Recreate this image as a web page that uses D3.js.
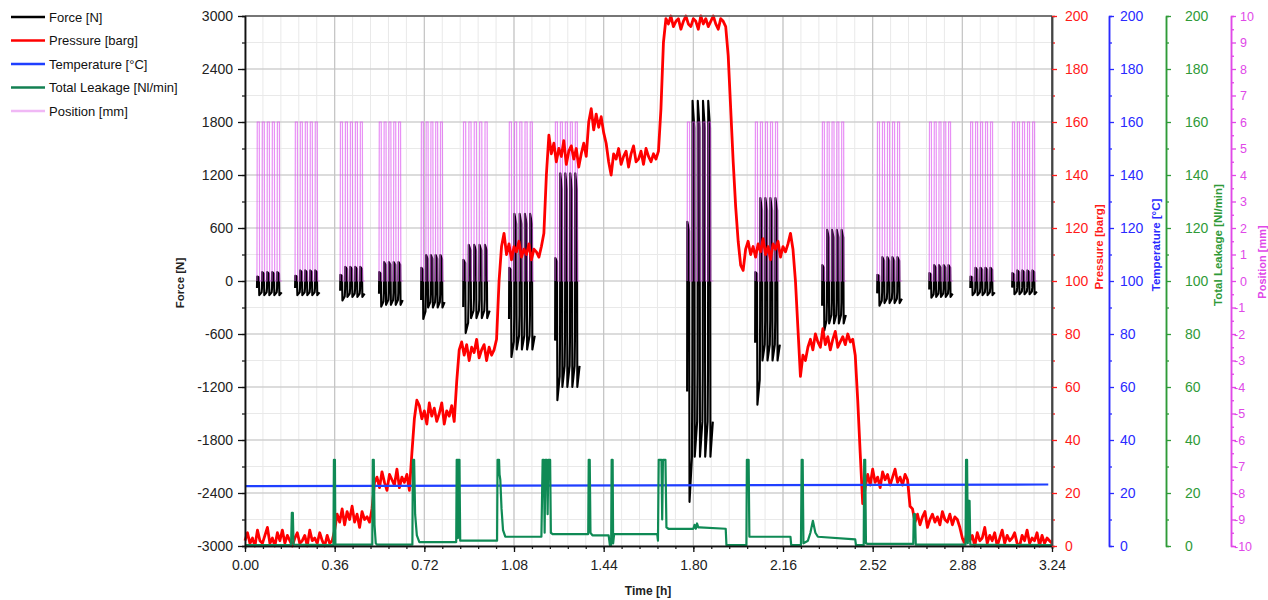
<!DOCTYPE html>
<html>
<head>
<meta charset="utf-8">
<script src="https://d3js.org/d3.v7.min.js"></script>
<style>
    body { margin: 0; background: #fff; }
    text { font-family: Arial, "Liberation Sans", sans-serif; }
</style>
</head>
<body>
<div id="chart"></div>
<script>

/* Force / position test blocks: 5 strokes each */
var blockStart = [0.048, 0.201, 0.382, 0.538, 0.707, 0.876, 1.060, 1.245, 1.775, 2.048, 2.317, 2.538, 2.747, 2.912, 3.080];
var blockEnd   = [0.149, 0.301, 0.482, 0.635, 0.803, 0.984, 1.165, 1.345, 1.880, 2.149, 2.414, 2.639, 2.843, 3.012, 3.181];
var forceTop         = [100, 120, 160, 215, 295, 410, 760, 1220, 2040, 940, 580, 270, 180, 150, 120];
var forceFirstTop    = [50, 60, 70, 100, 150, 240, 150, 260, 670, 100, 180, 70, 90, 50, 90];
var forceBottom      = [-160, -160, -180, -270, -300, -420, -775, -1200, -1990, -900, -480, -250, -180, -160, -150];
var forceFirstBottom = [-160, -160, -220, -290, -430, -590, -860, -1350, -2500, -1400, -560, -280, -190, -160, -150];
var positionLow = 0, positionHigh = 6;

/* Pressure [barg], one value every 0.01 h from each start time */
var pressureStart = [0.00, 0.36, 0.50, 0.67, 0.85, 1.01, 1.20, 1.38, 1.46, 1.67, 1.94, 2.19, 2.45, 2.67, 2.88];
var pressureRuns = [
    [2,5,1,3,0,6,2,1,4,7,1,3,0,5,2,6,1,4,2,0,3,5,1,2,4,0,6,2,3,1,5,2,0,4,1,2],
    [6,12,9,14,8,13,10,15,9,12,7,13,10,11],
    [9,14,24,26,22,28,24,21,27,25,23,29,22,26,24,27,21],
    [35,48,55,53,48,51,46,54,49,52,47,50,54,46,51,49,53,47],
    [62,74,77,72,76,70,75,73,78,71,74,76,70,75,72,74],
    [78,100,113,118,110,114,108,113,111,115,109,112,110,114,108,112,111,109,113],
    [118,140,155,148,152,145,150,147,153,144,149,151,146,150,143,148,152,147],
    [160,165,157,163,158,162,156,152],
    [145,140,148,146,150,144,147,149,143,148,151,145,146,149,144,150,147,145,148,146,149],
    [165,190,199,197,200,196,198,199,195,198,200,197,196,199,198,195,200,197,199,196,198,200,197,195,199,198,196],
    [185,165,145,128,115,106,104,112,115,110,113,109,114,111,116,110,113,108,114,112,115,109,113,111,114],
    [118,112,100,82,64,72,70,75,78,74,80,77,75,82,76,79,74,78,81,75,77,79,76,80,77,78],
    [72,55,35,16,22,27,23,29,24,26,22,28,25,27,23,26,29,24,26,23,27,25],
    [15,14,9,12,8,11,13,7,10,12,9,11,8,13,10,9,12,8,11,10,7],
    [3,1,6,2,4,0,5,2,3,7,1,4,2,5,0,3,6,1,4,2,3,5,1,0,4,2,6,1,3,2,5,0,4,1,3,2,1]
];

/* Temperature [°C] */
var tempTime  = [0, 1.6, 3.225];
var tempValue = [22.6, 22.9, 23.2];

/* Total leakage [Nl/min] */
var leakTime = [0, 0.185, 0.188, 0.192, 0.195,
    0.355, 0.357, 0.361, 0.363,
    0.511, 0.513, 0.517, 0.520, 0.525, 0.530,
    0.672, 0.674, 0.679, 0.683, 0.690, 0.700,
    0.848, 0.850, 0.853, 0.855, 0.857, 0.861, 0.864,
    1.012, 1.014, 1.020, 1.022, 1.025, 1.030, 1.036, 1.045,
    1.190, 1.195, 1.200, 1.203, 1.206, 1.212, 1.215, 1.218, 1.225, 1.228, 1.235,
    1.378, 1.380, 1.384, 1.387, 1.395,
    1.460, 1.465, 1.470, 1.472, 1.476, 1.478, 1.482,
    1.655, 1.658, 1.661, 1.672, 1.675, 1.678, 1.688, 1.692, 1.700,
    1.800, 1.805, 1.810, 1.815, 1.820, 1.825, 1.930, 1.933,
    2.013, 2.015, 2.022, 2.025, 2.190, 2.193,
    2.232, 2.235, 2.239, 2.242, 2.260, 2.270, 2.280, 2.290, 2.300, 2.450, 2.453,
    2.484, 2.486, 2.490, 2.493, 2.500, 2.683, 2.685, 2.690, 2.693,
    2.893, 2.895, 2.899, 2.902, 2.905, 2.909, 2.912, 3.240];
var leakValue = [0.3, 0.3, 12.5, 12.5, 0.5,
    0.3, 32.5, 32.5, 0.5,
    0.5, 32.5, 32.5, 8, 1, 0.5,
    0.5, 32.5, 32.5, 12, 4, 1.5,
    1.5, 32.5, 32.5, 3, 32.5, 32.5, 2,
    2, 32.5, 32.5, 27, 25, 14, 6, 3.5,
    3.5, 32.5, 32.5, 5, 32.5, 32.5, 12, 32.5, 32.5, 5, 4.5,
    4.5, 32.5, 32.5, 5, 4,
    4, 0.3, 0.3, 32.5, 32.5, 1, 4.5,
    4.5, 2, 32.5, 32.5, 10, 32.5, 32.5, 7, 6.5,
    6.5, 8, 6.5, 8.5, 7, 7, 6.5, 0.3,
    0.3, 32.5, 32.5, 3.5, 3.5, 0.3,
    0.3, 32.5, 32.5, 1, 2, 5, 9.5, 5, 3.5, 2.5, 0.3,
    0.3, 32.5, 32.5, 1, 0.8, 0.8, 12, 12, 0.5,
    0.5, 32.5, 32.5, 1, 17, 17, 0.5, 0.3];

/* Tick values */
var timeTicks = [0, 0.36, 0.72, 1.08, 1.44, 1.80, 2.16, 2.52, 2.88, 3.24];
var forceTicks = [-3000, -2400, -1800, -1200, -600, 0, 600, 1200, 1800, 2400, 3000];
var hundredTicks = [0, 20, 40, 60, 80, 100, 120, 140, 160, 180, 200];
var positionTicks = [-10, -9, -8, -7, -6, -5, -4, -3, -2, -1, 0, 1, 2, 3, 4, 5, 6, 7, 8, 9, 10];

var legendNames = ["Force [N]", "Pressure [barg]", "Temperature [°C]", "Total Leakage [Nl/min]", "Position [mm]"];
var legendColors = ["#000000", "#ff0000", "#1f3fff", "#138052", "#f0b8f5"];

/* Overall SVG container */
var width = 1268, height = 600;
var plot = { left: 245, right: 1052, top: 16, bottom: 546 };

var svg = d3.select("#chart")
    .append("svg")
    .attr("width", width)
    .attr("height", height);

/* Scales */
var x = d3.scaleLinear().domain([0, 3.24]).range([plot.left, plot.right]);
var yForce = d3.scaleLinear().domain([-3000, 3000]).range([plot.bottom, plot.top]);
var yPressure = d3.scaleLinear().domain([0, 200]).range([plot.bottom, plot.top]);
var yTemp = d3.scaleLinear().domain([0, 200]).range([plot.bottom, plot.top]);
var yLeak = d3.scaleLinear().domain([0, 200]).range([plot.bottom, plot.top]);
var yPos = d3.scaleLinear().domain([-10, 10]).range([plot.bottom, plot.top]);

/* Grid: minor then major */
var minorX = d3.range(0, 3.2401, 0.072);
var minorY = d3.range(-3000, 3001, 300);
var grid = svg.append("g");
grid.selectAll(".mx").data(minorX).enter().append("line")
    .attr("x1", function(d) { return x(d); }).attr("x2", function(d) { return x(d); })
    .attr("y1", plot.top).attr("y2", plot.bottom)
    .attr("stroke", "#e9e9e9").attr("stroke-width", 1);
grid.selectAll(".my").data(minorY).enter().append("line")
    .attr("x1", plot.left).attr("x2", plot.right)
    .attr("y1", function(d) { return yForce(d); }).attr("y2", function(d) { return yForce(d); })
    .attr("stroke", "#e9e9e9").attr("stroke-width", 1);
grid.selectAll(".gx").data(timeTicks).enter().append("line")
    .attr("x1", function(d) { return x(d); }).attr("x2", function(d) { return x(d); })
    .attr("y1", plot.top).attr("y2", plot.bottom)
    .attr("stroke", "#c4c4c4").attr("stroke-width", 1.2);
grid.selectAll(".gy").data(forceTicks).enter().append("line")
    .attr("x1", plot.left).attr("x2", plot.right)
    .attr("y1", function(d) { return yForce(d); }).attr("y2", function(d) { return yForce(d); })
    .attr("stroke", "#c4c4c4").attr("stroke-width", 1.2);

/* Build stroke shapes of each block */
var blocks = d3.range(blockStart.length);

function forcePoints(b) {
    var P = (blockEnd[b] - blockStart[b]) / 5, pts = [];
    for (var i = 0; i < 5; i++) {
        var ts = blockStart[b] + i * P,
            top = i == 0 ? forceFirstTop[b] : forceTop[b],
            bot = i == 0 ? forceFirstBottom[b] : forceBottom[b];
        pts.push([ts, bot * 0.5], [ts + 0.04 * P, top], [ts + 0.38 * P, top * 0.85],
                 [ts + 0.46 * P, bot], [ts + 0.92 * P, bot * 0.8]);
    }
    return pts;
}

function positionPoints(b) {
    var P = (blockEnd[b] - blockStart[b]) / 5, pts = [];
    for (var i = 0; i < 5; i++) {
        var ts = blockStart[b] + i * P;
        pts.push([ts, positionLow], [ts + 0.06 * P, positionHigh], [ts + 0.46 * P, positionHigh],
                 [ts + 0.52 * P, positionLow], [ts + P, positionLow]);
    }
    return pts;
}

var forceLine = d3.line().x(function(d) { return x(d[0]); }).y(function(d) { return yForce(d[1]); });
var posLine = d3.line().x(function(d) { return x(d[0]); }).y(function(d) { return yPos(d[1]); });

/* Force */
svg.append("g").selectAll("path")
    .data(blocks)
    .enter().append("path")
    .attr("d", function(b) { return forceLine(forcePoints(b)); })
    .attr("fill", "none")
    .attr("stroke", "#000")
    .attr("stroke-width", 2.1)
    .attr("stroke-linejoin", "round");

/* Position */
svg.append("g").selectAll("path")
    .data(blocks)
    .enter().append("path")
    .attr("d", function(b) { return posLine(positionPoints(b)); })
    .attr("fill", "none")
    .attr("stroke", "#dc55f0")
    .attr("stroke-width", 1.2)
    .attr("opacity", 0.65);

/* Pressure */
var pressureData = [];
pressureRuns.forEach(function(run, k) {
    run.forEach(function(v, i) {
        pressureData.push([pressureStart[k] + i * 0.01, v]);
    });
});

svg.append("path")
    .datum(pressureData)
    .attr("d", d3.line().x(function(d) { return x(d[0]); }).y(function(d) { return yPressure(d[1]); }))
    .attr("fill", "none")
    .attr("stroke", "#ff0000")
    .attr("stroke-width", 2.8)
    .attr("stroke-linejoin", "round");

/* Temperature */
svg.append("path")
    .datum(d3.range(tempTime.length))
    .attr("d", d3.line().x(function(i) { return x(tempTime[i]); }).y(function(i) { return yTemp(tempValue[i]); }))
    .attr("fill", "none")
    .attr("stroke", "#1f3fff")
    .attr("stroke-width", 2.2);

/* Total leakage */
svg.append("path")
    .datum(d3.range(leakTime.length))
    .attr("d", d3.line().x(function(i) { return x(leakTime[i]); }).y(function(i) { return yLeak(leakValue[i]); }))
    .attr("fill", "none")
    .attr("stroke", "#0f8a55")
    .attr("stroke-width", 2.2)
    .attr("stroke-linejoin", "round");

/* Frame */
svg.append("line")
    .attr("x1", plot.left).attr("x2", plot.right)
    .attr("y1", plot.top).attr("y2", plot.top)
    .attr("stroke", "#555").attr("stroke-width", 1.5);
svg.append("line")
    .attr("x1", plot.right).attr("x2", plot.right)
    .attr("y1", plot.top).attr("y2", plot.bottom)
    .attr("stroke", "#444").attr("stroke-width", 1.5);

/* Axes helper */
function styleAxis(g, color, fontSize) {
    g.selectAll("path.domain").attr("stroke", color).attr("stroke-width", 1.5);
    g.selectAll(".tick line").attr("stroke", color).attr("stroke-width", 1.3);
    g.selectAll(".tick text").attr("fill", color).attr("font-size", fontSize)
        .attr("font-family", "Arial, 'Liberation Sans', sans-serif");
}

/* Left: Force */
var gLeftMinor = svg.append("g").attr("transform", "translate(" + plot.left + ",0)")
    .call(d3.axisLeft(yForce).tickValues(minorY).tickSize(3).tickFormat(""));
styleAxis(gLeftMinor, "#222", 14);
var gLeft = svg.append("g").attr("transform", "translate(" + plot.left + ",0)")
    .call(d3.axisLeft(yForce).tickValues(forceTicks).tickSize(7).tickSizeOuter(0).tickPadding(5)
        .tickFormat(function(d) { return String(d); }));
styleAxis(gLeft, "#111", 14);
gLeft.selectAll(".tick text").attr("fill", "#222");

/* Bottom: Time */
var gBottomMinor = svg.append("g").attr("transform", "translate(0," + plot.bottom + ")")
    .call(d3.axisBottom(x).tickValues(minorX).tickSize(3).tickFormat(""));
styleAxis(gBottomMinor, "#222", 14);
var gBottom = svg.append("g").attr("transform", "translate(0," + plot.bottom + ")")
    .call(d3.axisBottom(x).tickValues(timeTicks).tickSize(6).tickSizeOuter(0).tickPadding(8)
        .tickFormat(d3.format(".2f")));
styleAxis(gBottom, "#111", 14);
gBottom.selectAll(".tick text").attr("fill", "#222");

/* Right axes: Pressure, Temperature, Leakage, Position */
var rightAxes = [
    { scale: yPressure, pos: 1052, color: "#ff1a1a", ticks: hundredTicks, minor: d3.range(10, 200, 20), pad: 8, font: 14, domain: "#444" },
    { scale: yTemp, pos: 1109, color: "#2a2aff", ticks: hundredTicks, minor: d3.range(10, 200, 20), pad: 6, font: 14, domain: "#2a2aff" },
    { scale: yLeak, pos: 1166, color: "#2f9a38", ticks: hundredTicks, minor: d3.range(10, 200, 20), pad: 14, font: 14, domain: "#2f9a38" },
    { scale: yPos, pos: 1231, color: "#e048e8", ticks: positionTicks, minor: d3.range(-9.5, 10, 1), pad: 4, font: 12.5, domain: "#e048e8" }
];

rightAxes.forEach(function(a) {
    var gm = svg.append("g").attr("transform", "translate(" + a.pos + ",0)")
        .call(d3.axisRight(a.scale).tickValues(a.minor).tickSize(3).tickFormat(""));
    styleAxis(gm, a.color, a.font);
    gm.select("path.domain").attr("stroke", a.domain);
    var g = svg.append("g").attr("transform", "translate(" + a.pos + ",0)")
        .call(d3.axisRight(a.scale).tickValues(a.ticks).tickSize(5).tickSizeOuter(0).tickPadding(a.pad)
            .tickFormat(function(d) { return String(d); }));
    styleAxis(g, a.color, a.font);
    g.select("path.domain").attr("stroke", a.domain);
    if (a.scale === yPos) {
        g.selectAll(".tick text").attr("x", function(d) { return d < 0 ? 3 : 9; });
    }
});

/* Axis titles */
function axisTitle(text, tx, ty, rotate, color, size) {
    svg.append("text")
        .attr("transform", "translate(" + tx + "," + ty + ")" + (rotate ? " rotate(-90)" : ""))
        .attr("text-anchor", "middle")
        .attr("font-size", size)
        .attr("font-weight", "bold")
        .attr("fill", color)
        .text(text);
}
axisTitle("Force [N]", 184, 283, true, "#222", 11.5);
axisTitle("Time [h]", 648, 595, false, "#222", 12);
axisTitle("Pressure [barg]", 1103, 247, true, "#ff1a1a", 11.5);
axisTitle("Temperature [°C]", 1160, 245, true, "#2a2aff", 11.5);
axisTitle("Total Leakage [Nl/min]", 1222, 245, true, "#2f9a38", 11.5);
axisTitle("Position [mm]", 1266, 262, true, "#e048e8", 11);

/* Legend */
var legend = svg.append("g")
    .selectAll("g")
    .data(legendNames)
    .enter().append("g")
    .attr("transform", function(d, i) { return "translate(0," + (17 + i * 23.5) + ")"; });

legend.append("line")
    .attr("x1", 11).attr("x2", 45)
    .attr("stroke", function(d, i) { return legendColors[i]; })
    .attr("stroke-width", 2.5);

legend.append("text")
    .attr("x", 49)
    .attr("dy", "0.35em")
    .attr("font-size", 13)
    .attr("fill", "#111")
    .text(function(d) { return d; });

</script>
</body>
</html>
